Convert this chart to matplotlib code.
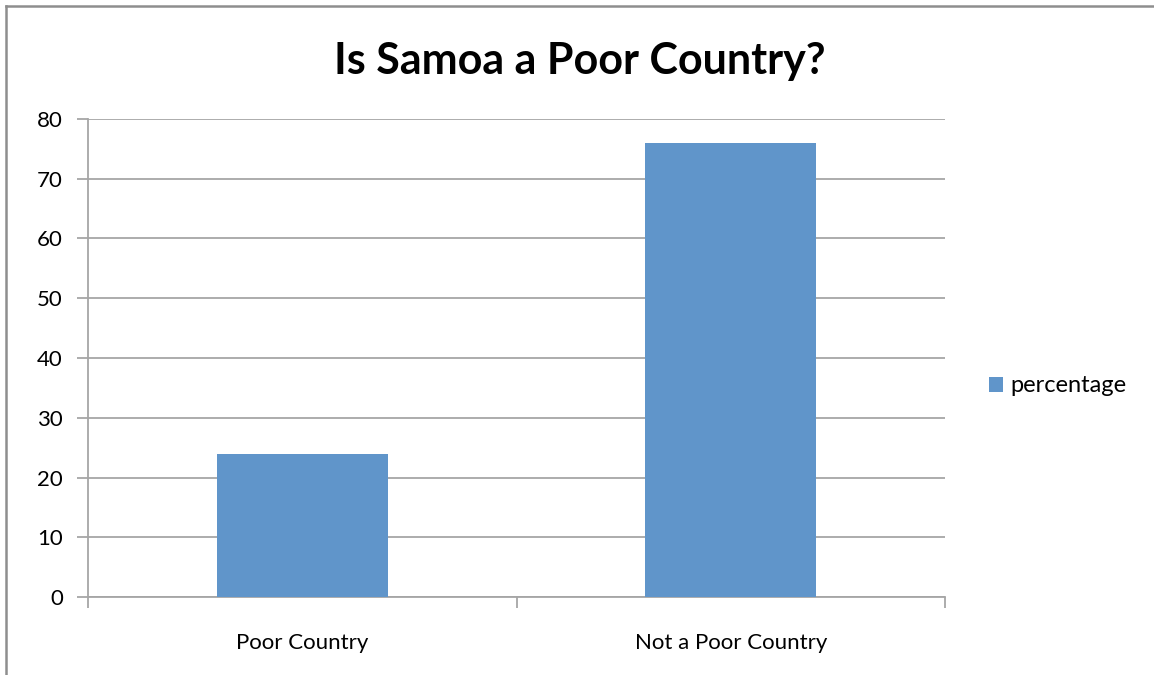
import matplotlib.pyplot as plt
from matplotlib.lines import Line2D
from matplotlib.patches import Patch

categories = ['Poor Country', 'Not a Poor Country']
percentage = [24, 76]
yticks = [0, 10, 20, 30, 40, 50, 60, 70, 80]

plt.rcParams['font.family'] = ['Lato', 'DejaVu Sans']

W, H = 1154, 675
fig = plt.figure(figsize=(W / 100, H / 100), dpi=100)
fig.patch.set_facecolor('white')

# plot area in pixels: x 88..945, y 119..597
ax = fig.add_axes([88 / W, 1 - 597 / H, (945 - 88) / W, (597 - 119) / H])

grid_c = '#a6a6a6'
bar_c = '#6095ca'
x = list(range(len(categories)))
ax.bar(x, percentage, width=0.4, color=bar_c, zorder=3, label='percentage')
ax.set_xlim(-0.5, len(categories) - 0.5)
ax.set_ylim(0, 80)
ax.set_yticks(yticks)
ax.set_yticklabels([str(v) for v in yticks], fontsize=16)
ax.yaxis.grid(True, color=grid_c, linewidth=1.3, zorder=0)

# category boundaries get the tick marks, labels sit in between
ax.set_xticks([-0.5, 0.5, 1.5], minor=False)
ax.set_xticklabels([])
ax.set_xticks(x, minor=True)
ax.set_xticklabels(categories, minor=True, fontsize=16)
ax.tick_params(axis='x', which='minor', length=0, pad=26)
ax.tick_params(axis='x', which='major', length=8, width=1.3, color=grid_c, direction='out')
ax.tick_params(axis='y', length=8, width=1.3, color=grid_c, pad=10)

for s in ['top', 'right']:
    ax.spines[s].set_visible(False)
for s in ['left', 'bottom']:
    ax.spines[s].set_color(grid_c)
    ax.spines[s].set_linewidth(1.3)

fig.text(580 / W, 1 - 74 / H, 'Is Samoa a Poor Country?', ha='center', va='baseline',
         fontsize=31, fontweight='bold')

handles = [Patch(facecolor=bar_c, label='percentage')]
fig.legend(handles=handles, loc='center left', bbox_to_anchor=(989 / W, 1 - 386 / H),
           frameon=False, fontsize=17, handlelength=0.6, handleheight=0.6,
           handletextpad=0.3, borderpad=0, borderaxespad=0)

# outer chart frame (runs off the picture at right and bottom)
frame_c = '#8e8e8e'
fig.add_artist(Line2D([6 / W, 1], [1 - 6 / H, 1 - 6 / H], color=frame_c, linewidth=1.8))
fig.add_artist(Line2D([6 / W, 6 / W], [0, 1 - 6 / H], color=frame_c, linewidth=1.8))

fig.savefig('out.png', dpi=100)
